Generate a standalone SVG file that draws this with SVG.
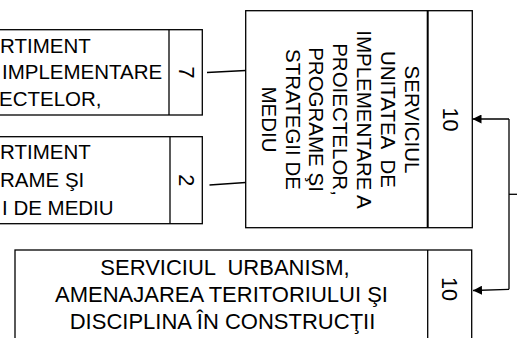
<svg xmlns="http://www.w3.org/2000/svg" width="517" height="338" viewBox="0 0 517 338">
<defs>
<style>
.box{fill:#fff;stroke:#000;stroke-width:1.3}
.div{stroke:#000;stroke-width:1.3}
.t{font-family:"Liberation Sans",Arial,sans-serif;font-size:20.5px;fill:#000}
.n{font-family:"Liberation Sans",Arial,sans-serif;font-size:21.5px;fill:#000}
.c{stroke:#000;stroke-width:1.3;fill:none}
</style>
<marker id="ah" viewBox="0 0 10 10" refX="10" refY="5" markerWidth="9" markerHeight="9" markerUnits="userSpaceOnUse" orient="auto">
<path d="M0,0 L10,5 L0,10 z" fill="#000"/>
</marker>
</defs>
<rect width="517" height="338" fill="#fff"/>

<g id="compartiment-implementare">
<rect class="box" x="-5" y="29.7" width="207.3" height="85.3"/>
<line class="div" x1="169" y1="29.7" x2="169" y2="115"/>
<text class="t" x="0" y="52.7">RTIMENT</text>
<text class="t" x="2" y="79.3">IMPLEMENTARE</text>
<text class="t" x="-1" y="106">ECTELOR,</text>
<text class="n" transform="translate(178.5,72.4) rotate(90)" text-anchor="middle">7</text>
</g>

<g id="compartiment-programe">
<rect class="box" x="-5" y="136.7" width="207.3" height="87"/>
<line class="div" x1="170" y1="136.7" x2="170" y2="223.7"/>
<text class="t" x="0" y="159.3">RTIMENT</text>
<text class="t" x="0" y="187">RAME ŞI</text>
<text class="t" x="2" y="214.7">I DE MEDIU</text>
<text class="n" transform="translate(178.8,180.2) rotate(90)" text-anchor="middle">2</text>
</g>

<g id="serviciul-uip">
<rect class="box" x="245.7" y="10.7" width="226.6" height="217"/>
<line x1="427.7" y1="10.7" x2="427.7" y2="227.7" stroke="#000" stroke-width="2"/>
<g transform="translate(405,119.5) rotate(90)">
<text class="t" text-anchor="middle" xml:space="preserve"><tspan x="0" y="0">SERVICIUL</tspan><tspan x="0" y="23.9">UNITATEA  DE</tspan><tspan x="0" y="47.8">IMPLEMENTARE A</tspan><tspan x="0" y="71.7">PROIECTELOR,</tspan><tspan x="0" y="95.6">PROGRAME ŞI</tspan><tspan x="0" y="119.5">STRATEGII DE</tspan><tspan x="0" y="143.4">MEDIU</tspan></text>
</g>
<text class="n" transform="translate(442.5,119.5) rotate(90)" text-anchor="middle">10</text>
</g>

<g id="serviciul-urbanism">
<rect class="box" x="15" y="250" width="456.7" height="100"/>
<line class="div" x1="427.7" y1="250" x2="427.7" y2="350"/>
<text class="t" text-anchor="middle" style="font-size:22px" xml:space="preserve"><tspan x="225" y="274.7">SERVICIUL  URBANISM,</tspan><tspan x="221.5" y="302">AMENAJAREA TERITORIULUI ŞI</tspan><tspan x="222.5" y="329.3">DISCIPLINA ÎN CONSTRUCŢII</tspan></text>
<text class="n" transform="translate(442,289) rotate(90)" text-anchor="middle">10</text>
</g>

<g id="connectors">
<line class="c" x1="207" y1="72.5" x2="245.7" y2="70.5"/>
<line class="c" x1="209.5" y1="185" x2="245.7" y2="182.5"/>
<polyline class="c" points="509,119 509,289.3"/>
<line class="c" x1="509" y1="194.3" x2="517" y2="194.3"/>
<line class="c" x1="509" y1="119" x2="472.5" y2="119" marker-end="url(#ah)"/>
<line class="c" x1="509" y1="289.3" x2="473" y2="290.5" marker-end="url(#ah)"/>
</g>
</svg>
